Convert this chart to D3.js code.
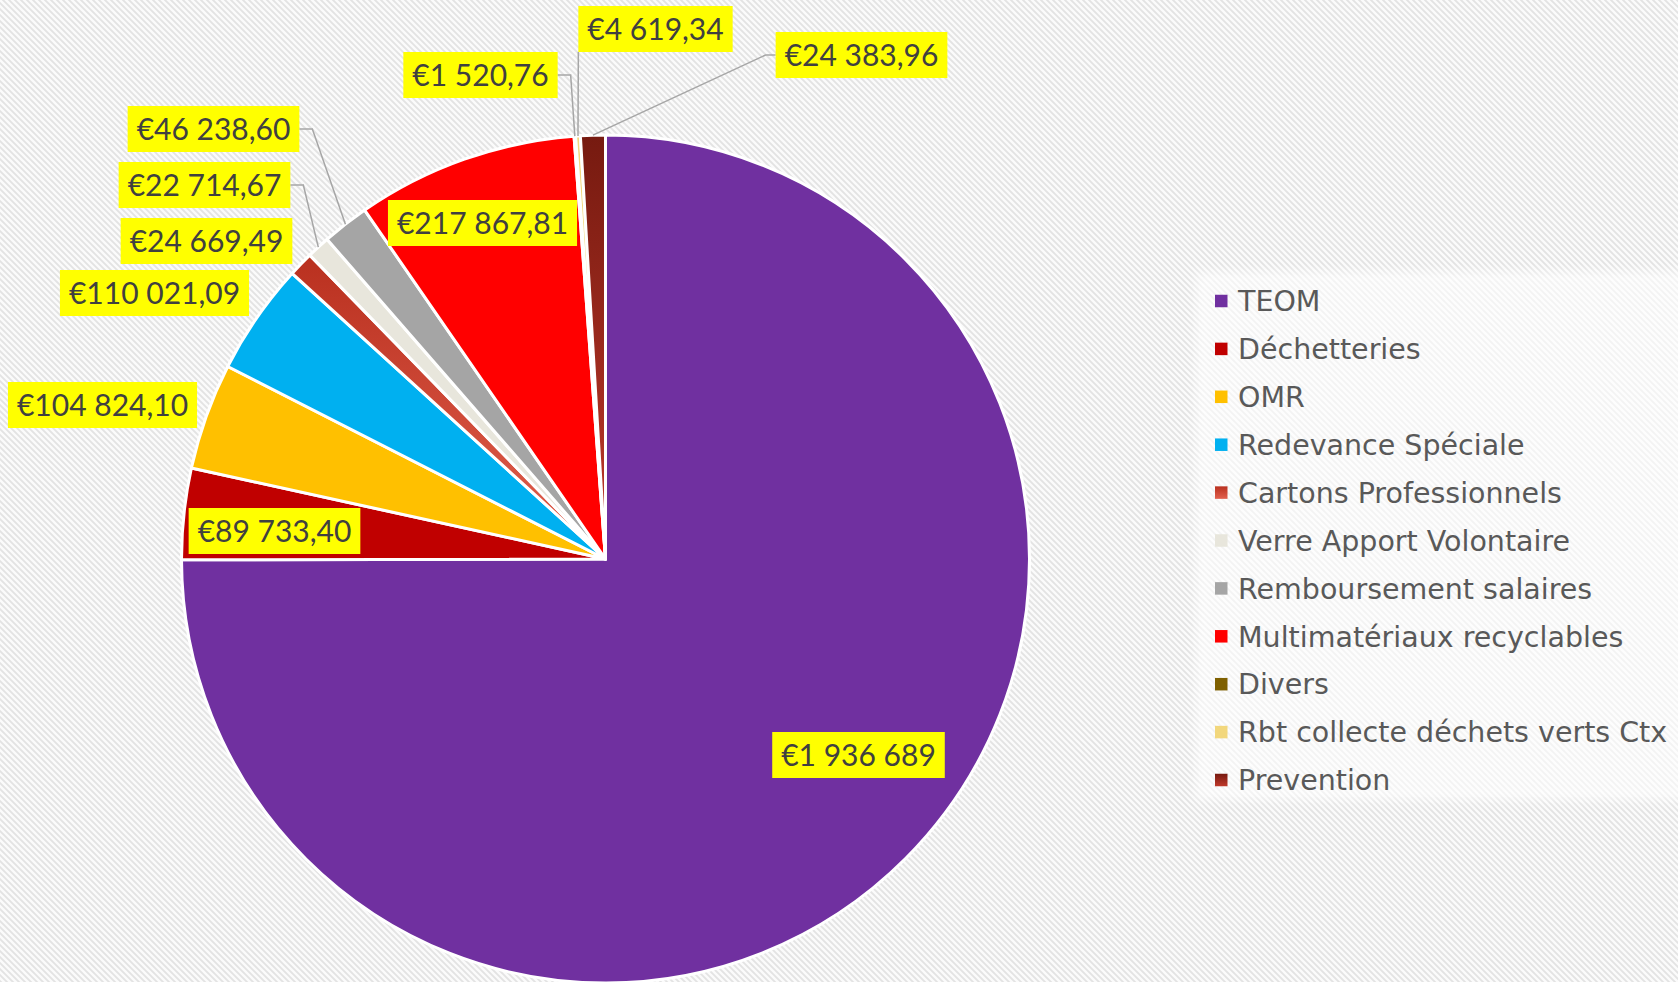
<!DOCTYPE html>
<html>
<head>
<meta charset="utf-8">
<script src="https://cdn.jsdelivr.net/npm/d3@7"></script>
<style>
  body { margin: 0; background: #fff; }
  svg { display: block; }
</style>
</head>
<body>
<script>
  // data
  var categories = ["TEOM", "Déchetteries", "OMR", "Redevance Spéciale",
    "Cartons Professionnels", "Verre Apport Volontaire", "Remboursement salaires",
    "Multimatériaux recyclables", "Divers", "Rbt collecte déchets verts Ctx", "Prevention"];
  var values = [1936689, 89733.40, 104824.10, 110021.09, 24669.49, 22714.67,
    46238.60, 217867.81, 1520.76, 4619.34, 24383.96];
  var colors = ["#7030a0", "#c00000", "#ffc000", "#00b0f0", "url(#gCartons)", "#e8e6dc",
    "#a5a5a5", "#ff0000", "#7f6000", "#f2d77c", "url(#gPrev)"];

  // layout: label centre offsets from the pie centre, and leader style
  var labelOffset = [[253, 196], [-331, -28], [-503, -154], [-451, -266], [-399, -318],
    [-401, -374], [-392, -430], [-123, -336], [-125, -484], [50, -530], [256, -504]];
  var leader = [null, null, null, null, null, "right", "right", null, "right", "down", "left"];

  var W = 1678, H = 982;
  var cx = 605.5, cy = 559, R = 424;

  var svg = d3.select("body").append("svg").attr("width", W).attr("height", H);
  var defs = svg.append("defs");

  // striped background
  var pat = defs.append("pattern").attr("id", "stripes")
    .attr("patternUnits", "userSpaceOnUse").attr("width", 6).attr("height", 6);
  pat.append("rect").attr("width", 6).attr("height", 6).attr("fill", "#e3e3e3");
  pat.append("path").attr("d", "M-1,-1 L7,7 M-1,5 L1,7 M5,-1 L7,1")
    .attr("stroke", "#fbfbfb").attr("stroke-width", 2.4);

  function grad(id, c1, c2) {
    var g = defs.append("linearGradient").attr("id", id)
      .attr("x1", 0).attr("y1", 0).attr("x2", 0).attr("y2", 1);
    g.append("stop").attr("offset", "0%").attr("stop-color", c1);
    g.append("stop").attr("offset", "100%").attr("stop-color", c2);
  }
  grad("gCartons", "#b9301f", "#e2614f");
  grad("gPrev", "#761a10", "#c0392b");

  defs.append("filter").attr("id", "soft")
    .append("feGaussianBlur").attr("stdDeviation", 5);

  svg.append("rect").attr("width", W).attr("height", H).attr("fill", "url(#stripes)");

  var fr = d3.formatLocale({decimal: ",", thousands: "\u00a0", grouping: [3], currency: ["€", ""]});
  function fmt(v) { return Number.isInteger(v) ? fr.format("$,.0f")(v) : fr.format("$,.2f")(v); }

  var pie = d3.pie().sort(null).value(function(d) { return d; });
  var arcs = pie(values);
  var arc = d3.arc().innerRadius(0).outerRadius(R);

  var g = svg.append("g").attr("transform", "translate(" + cx + "," + cy + ")");
  g.selectAll("path.slice").data(arcs).enter().append("path")
    .attr("class", "slice")
    .attr("d", arc)
    .attr("fill", function(d, i) { return colors[i]; })
    .attr("stroke", "#fff")
    .attr("stroke-width", 3)
    .attr("stroke-linejoin", "round");

  // labels
  var lab = g.selectAll("g.lab").data(arcs).enter().append("g").attr("class", "lab");
  lab.each(function(d, i) {
    var sel = d3.select(this);
    var lx = labelOffset[i][0], ly = labelOffset[i][1];
    var t = sel.append("text")
      .attr("x", lx).attr("y", ly).attr("dy", "0.36em")
      .attr("text-anchor", "middle")
      .style("font-family", "Lato, 'Open Sans', sans-serif")
      .style("font-size", "30px")
      .attr("fill", "#404040")
      .text(fmt(values[i]));
    var w = t.node().getComputedTextLength() + 18, h = 46;
    sel.insert("rect", "text")
      .attr("x", lx - w / 2).attr("y", ly - h / 2)
      .attr("width", w).attr("height", h)
      .attr("fill", "#ffff00");

    if (leader[i]) {
      var a = (d.startAngle + d.endAngle) / 2;
      var px = R * Math.sin(a), py = -R * Math.cos(a);
      var pts;
      if (leader[i] == "right") {
        pts = [[lx + w / 2, ly], [lx + w / 2 + 13, ly], [px, py]];
      } else if (leader[i] == "left") {
        pts = [[lx - w / 2, ly], [lx - w / 2 - 10, ly], [px, py]];
      } else {
        pts = [[lx - w / 2, ly + h / 2], [px, py]];
      }
      g.insert("path", "g.lab")
        .attr("d", d3.line()(pts))
        .attr("fill", "none")
        .attr("stroke", "#a6a6a6")
        .attr("stroke-width", 1.5);
    }
  });

  // legend
  var legX = 1215, legY = 301, step = 47.9;
  svg.append("rect").attr("x", 1196).attr("y", 272).attr("width", 500).attr("height", 528)
    .attr("fill", "#ffffff").attr("opacity", 0.6).attr("filter", "url(#soft)");
  var leg = svg.selectAll("g.leg").data(categories).enter().append("g")
    .attr("class", "leg")
    .attr("transform", function(d, i) { return "translate(" + legX + "," + (legY + i * step) + ")"; });
  leg.append("rect").attr("x", 0).attr("y", -6.25).attr("width", 12.5).attr("height", 12.5)
    .attr("fill", function(d, i) { return colors[i]; });
  leg.append("text").attr("x", 23).attr("dy", "0.36em")
    .style("font-family", "'DejaVu Sans', Verdana, sans-serif")
    .style("font-size", "28.5px")
    .attr("fill", "#595959")
    .text(function(d) { return d; });
</script>
</body>
</html>
